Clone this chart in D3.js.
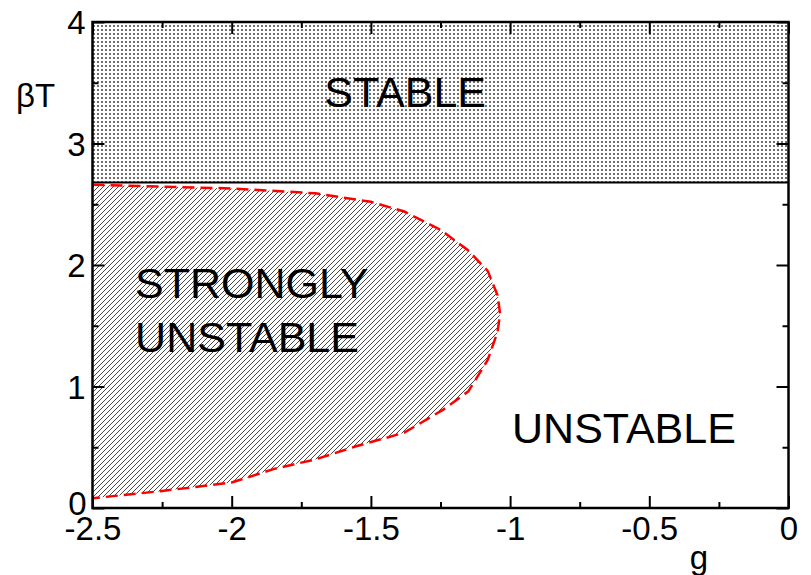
<!DOCTYPE html>
<html>
<head>
<meta charset="utf-8">
<script src="https://cdn.jsdelivr.net/npm/d3@7"></script>
<style>
  html, body { margin: 0; padding: 0; background: #fff; }
  svg { display: block; }
  text { font-family: "Liberation Sans", Arial, sans-serif; fill: #000; }
</style>
</head>
<body>
<div id="chart"></div>
<script>
// ---- data ----
const xDomain = [-2.5, 0];
const yDomain = [0, 4];
const xMajorTicks = [-2.5, -2, -1.5, -1, -0.5, 0];
const xTickLabels = ["-2.5", "-2", "-1.5", "-1", "-0.5", "0"];
const xMinorTicks = [-2.25, -1.75, -1.25, -0.75, -0.25];
const yMajorTicks = [0, 1, 2, 3, 4];
const yTickLabels = ["0", "1", "2", "3", "4"];
const yMinorTicks = [0.5, 1.5, 2.5, 3.5];
const stableBT = 2.68;
// strongly-unstable boundary (red dashed), traced from top-left around to bottom-left
const boundaryG  = [-2.5, -2.0, -1.7, -1.5, -1.38, -1.25, -1.15, -1.08, -1.045, -1.036, -1.045, -1.08, -1.15, -1.24, -1.38, -1.55, -1.7, -1.85, -2.0, -2.25, -2.5];
const boundaryBT = [2.66, 2.63, 2.59, 2.52, 2.44, 2.29, 2.12, 1.95, 1.75, 1.60, 1.45, 1.22, 0.96, 0.81, 0.62, 0.51, 0.40, 0.32, 0.21, 0.14, 0.08];
const regionLabels = [
  { lines: ["STABLE"], g: -1.377, bt: 3.30, anchor: "middle" },
  { lines: ["STRONGLY", "UNSTABLE"], g: -2.347, bt: 1.728, anchor: "start" },
  { lines: ["UNSTABLE"], g: -0.993, bt: 0.535, anchor: "start" }
];

// ---- layout ----
const W = 811, H = 575;
const m = { left: 92.5, right: 22.5, top: 22, bottom: 67 };
const svg = d3.select("#chart").append("svg").attr("width", W).attr("height", H);

const x = d3.scaleLinear().domain(xDomain).range([m.left, W - m.right]);
const y = d3.scaleLinear().domain(yDomain).range([H - m.bottom, m.top]);

const defs = svg.append("defs");
defs.append("clipPath").attr("id", "plotclip").append("rect")
  .attr("x", x(xDomain[0])).attr("y", y(yDomain[1]))
  .attr("width", x(xDomain[1]) - x(xDomain[0])).attr("height", y(yDomain[0]) - y(yDomain[1]));

const dots = defs.append("pattern").attr("id", "dots").attr("patternUnits", "userSpaceOnUse")
  .attr("width", 4).attr("height", 4);
dots.append("rect").attr("width", 4).attr("height", 4).attr("fill", "#fff");
dots.append("circle").attr("cx", 2).attr("cy", 2).attr("r", 0.95).attr("fill", "#333");

const hatch = defs.append("pattern").attr("id", "hatch").attr("patternUnits", "userSpaceOnUse")
  .attr("width", 5).attr("height", 5);
hatch.append("rect").attr("width", 5).attr("height", 5).attr("fill", "#fff");
hatch.append("path").attr("d", "M-1,6 L6,-1 M-1,1 L1,-1 M4,6 L6,4")
  .attr("stroke", "#333").attr("stroke-width", 0.9).attr("fill", "none");

const plot = svg.append("g").attr("clip-path", "url(#plotclip)");

// stable region
plot.append("rect")
  .attr("x", x(xDomain[0])).attr("y", y(yDomain[1]))
  .attr("width", x(xDomain[1]) - x(xDomain[0]))
  .attr("height", y(stableBT) - y(yDomain[1]))
  .attr("fill", "url(#dots)");

// strongly unstable region
const pts = boundaryG.map((g, i) => [g, boundaryBT[i]]);
const line = d3.line().x(d => x(d[0])).y(d => y(d[1]));
plot.append("path")
  .attr("d", line(pts) + "Z")
  .attr("fill", "url(#hatch)");

// stable boundary
plot.append("line")
  .attr("x1", x(xDomain[0])).attr("x2", x(xDomain[1]))
  .attr("y1", y(stableBT)).attr("y2", y(stableBT))
  .attr("stroke", "#000").attr("stroke-width", 2);

// red dashed boundary
plot.append("path")
  .attr("d", line(pts))
  .attr("fill", "none").attr("stroke", "#ff0000").attr("stroke-width", 2.5)
  .attr("stroke-dasharray", "12,6");

// region labels
regionLabels.forEach(l => {
  const t = svg.append("text")
    .attr("x", x(l.g)).attr("y", y(l.bt))
    .attr("text-anchor", l.anchor)
    .attr("font-size", 43);
  l.lines.forEach((s, i) => {
    t.append("tspan").attr("x", x(l.g)).attr("dy", i === 0 ? 0 : 54).text(s);
  });
});

// ---- axes (ticks inward on all sides) ----
const majorLen = 12, minorLen = 6;
function addAxis(axisFn, scale, tr, ticks, len, labels) {
  const a = axisFn(scale).tickValues(ticks).tickSizeInner(-len).tickSizeOuter(0);
  if (labels) a.tickFormat((d, i) => labels[i]); else a.tickFormat("");
  const g = svg.append("g").attr("transform", tr).call(a);
  g.select(".domain").remove();
  g.selectAll(".tick line").attr("stroke", "#000").attr("stroke-width", 2);
  return g;
}
const bottomY = y(yDomain[0]), topY = y(yDomain[1]);
const leftX = x(xDomain[0]), rightX = x(xDomain[1]);

const xb = addAxis(d3.axisBottom, x, `translate(0,${bottomY})`, xMajorTicks, majorLen, xTickLabels);
xb.selectAll(".tick text").attr("font-size", 33).attr("font-family", "Liberation Sans, Arial, sans-serif")
  .attr("fill", "#000").attr("y", 9).attr("dy", "0.71em");
addAxis(d3.axisBottom, x, `translate(0,${bottomY})`, xMinorTicks, minorLen, null);
addAxis(d3.axisTop, x, `translate(0,${topY})`, xMajorTicks, majorLen, null);
addAxis(d3.axisTop, x, `translate(0,${topY})`, xMinorTicks, minorLen, null);

const yl = addAxis(d3.axisLeft, y, `translate(${leftX},0)`, yMajorTicks, majorLen, yTickLabels);
yl.selectAll(".tick text").attr("font-size", 33).attr("font-family", "Liberation Sans, Arial, sans-serif")
  .attr("fill", "#000").attr("x", -7).attr("dy", "0.36em");
yl.selectAll(".tick").filter(d => d === 0).select("text").attr("x", -6).attr("dy", "0.2em");
addAxis(d3.axisLeft, y, `translate(${leftX},0)`, yMinorTicks, minorLen, null);
addAxis(d3.axisRight, y, `translate(${rightX},0)`, yMajorTicks, majorLen, null);
addAxis(d3.axisRight, y, `translate(${rightX},0)`, yMinorTicks, minorLen, null);

// frame
svg.append("rect")
  .attr("x", leftX).attr("y", topY)
  .attr("width", rightX - leftX).attr("height", bottomY - topY)
  .attr("fill", "none").attr("stroke", "#000").attr("stroke-width", 2.5);

// axis titles
const yt = svg.append("text").attr("x", 16).attr("y", 107).attr("font-size", 33);
yt.append("tspan").text("β");
yt.append("tspan").text("T");
svg.append("text").attr("x", 699).attr("y", 569).attr("text-anchor", "middle")
  .attr("font-size", 33).text("g");
</script>
</body>
</html>
